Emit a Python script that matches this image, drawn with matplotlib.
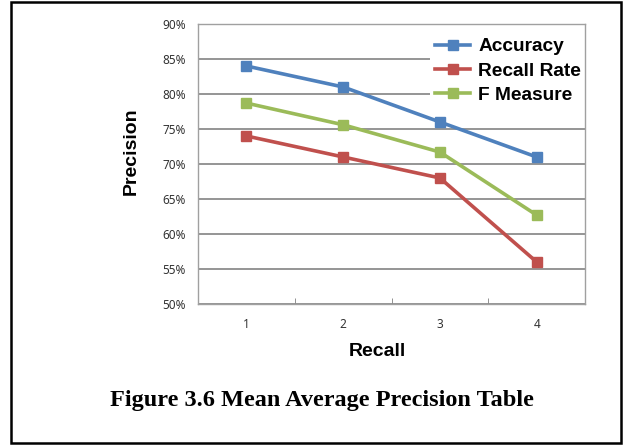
import matplotlib
matplotlib.use('Agg')
import matplotlib.pyplot as plt
from matplotlib.patches import Rectangle
from matplotlib.ticker import FuncFormatter, FixedLocator

# data
recall = [1, 2, 3, 4]
accuracy = [84, 81, 76, 71]
recall_rate = [74, 71, 68, 56]
f_measure = [78.7, 75.6, 71.7, 62.7]
series_names = ['Accuracy', 'Recall Rate', 'F Measure']
y_ticks = [50, 55, 60, 65, 70, 75, 80, 85, 90]

colors = ['#4F81BD', '#C0504D', '#9BBB59']

plt.rcParams['font.family'] = ['Noto Sans', 'DejaVu Sans']
bold_font = ['Liberation Sans', 'DejaVu Sans']

fig = plt.figure(figsize=(6.25, 4.45), dpi=100)
ax = fig.add_axes([0.317, 0.317, 0.619, 0.629])

for vals, name, c in zip([accuracy, recall_rate, f_measure], series_names, colors):
    ax.plot(recall, vals, color=c, linewidth=2.6, marker='s', markersize=6.5,
            label=name, zorder=3)

ax.set_xlim(0.5, 4.5)
ax.set_ylim(50, 90)
ax.set_yticks(y_ticks)
ax.yaxis.set_major_formatter(FuncFormatter(lambda v, p: '%d%%' % v))
ax.set_xticks(recall)
ax.xaxis.set_minor_locator(FixedLocator([1.5, 2.5, 3.5]))
ax.tick_params(axis='x', which='major', length=0, pad=10)
ax.tick_params(axis='x', which='minor', length=4, direction='in', color='#808080')
ax.tick_params(axis='y', length=0, pad=9)
for lab in ax.get_xticklabels() + ax.get_yticklabels():
    lab.set_fontsize(8.5)
    lab.set_color('#333333')

ax.grid(axis='y', color='#8C8C8C', linewidth=1.3, zorder=0)
ax.set_axisbelow(True)
for s in ax.spines.values():
    s.set_color('#A0A0A0')
    s.set_linewidth(1.0)
    s.set_zorder(6)

ax.set_ylabel('Precision', fontsize=14, fontweight='bold', family=bold_font)
ax.yaxis.set_label_coords(-0.150, 0.546)
ax.set_xlabel('Recall', fontsize=14, fontweight='bold', family=bold_font)
ax.xaxis.set_label_coords(0.4625, -0.139)

leg = ax.legend(loc='upper right', bbox_to_anchor=(1.03, 1.005), frameon=True,
                framealpha=1, edgecolor='white', handlelength=1.8,
                handletextpad=0.45, labelspacing=0.35, borderpad=0.3,
                prop={'size': 13.8, 'weight': 'bold', 'family': bold_font})
leg.get_frame().set_linewidth(0)
leg.set_zorder(5)

fig.text(0.515, 0.10, 'Figure 3.6 Mean Average Precision Table', ha='center',
         va='center', fontsize=17.5, fontweight='bold', family='Liberation Serif')

fig.patches.append(Rectangle((0.017, 0.004), 0.976, 0.992, transform=fig.transFigure,
                             fill=False, edgecolor='black', linewidth=1.8))

fig.savefig('out.png', dpi=100)
